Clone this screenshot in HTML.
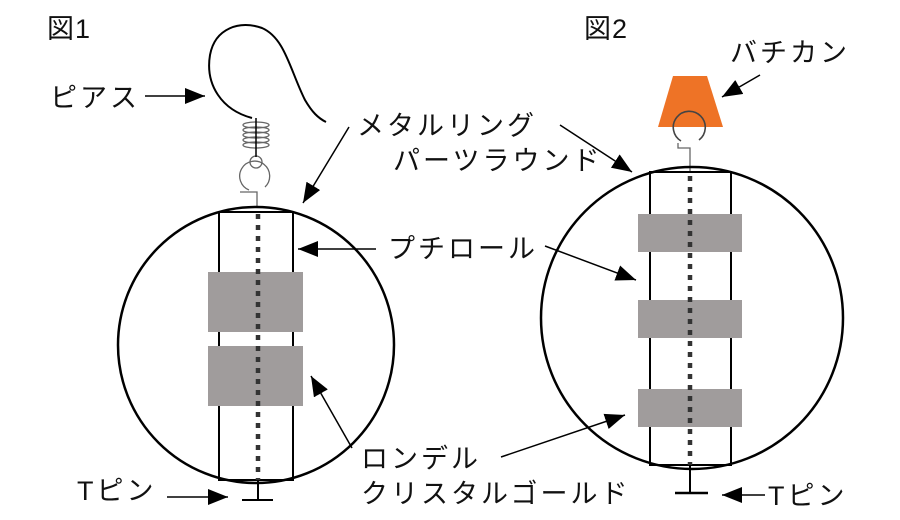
<!DOCTYPE html>
<html><head><meta charset="utf-8"><style>
html,body{margin:0;padding:0;background:#fff;}
svg{display:block;}
text{font-family:"Liberation Sans","Noto Sans CJK JP",sans-serif;font-size:27px;fill:#111;letter-spacing:3px;}
</style></head><body>
<svg width="900" height="520" viewBox="0 0 900 520" xmlns="http://www.w3.org/2000/svg">
<defs>
<marker id="a" viewBox="0 0 20 16" refX="20" refY="8" markerWidth="20" markerHeight="16" orient="auto" markerUnits="userSpaceOnUse"><path d="M0,0 L20,8 L0,16 z" fill="#000"/></marker>
</defs>

<!-- Figure 1 -->
<text x="47" y="38" style="letter-spacing:1px">図1</text>
<path d="M252,118 C222,110 205,85 210,55 C215,28 240,20 262,28 C285,38 290,70 305,100 C312,112 318,118 326,122" fill="none" stroke="#000" stroke-width="2"/>
<g fill="none" stroke="#666" stroke-width="1.3">
<ellipse cx="256" cy="125" rx="13" ry="3"/><ellipse cx="256" cy="130" rx="13" ry="3"/><ellipse cx="256" cy="135" rx="13" ry="3"/><ellipse cx="256" cy="140" rx="13" ry="3"/><ellipse cx="256" cy="145" rx="13" ry="3"/>
<circle cx="256" cy="162" r="6"/>
<path d="M249,190 A15,15 0 1 1 265,187"/>
<path d="M240,192 L257,192 L257,207"/>
</g>
<line x1="256" y1="118" x2="256" y2="157" stroke="#000" stroke-width="1.5"/>
<circle cx="256" cy="345" r="138" fill="none" stroke="#000" stroke-width="2.5"/>
<rect x="219" y="212" width="74" height="268" fill="none" stroke="#000" stroke-width="2"/>
<rect x="208" y="272" width="95" height="60" fill="#a09c9c"/>
<rect x="208" y="346" width="95" height="60" fill="#a09c9c"/>
<line x1="258" y1="214" x2="258" y2="480" stroke="#333" stroke-width="4.5" stroke-dasharray="5,6"/>
<line x1="258" y1="480" x2="258" y2="500" stroke="#000" stroke-width="2"/>
<line x1="242" y1="500" x2="273" y2="500" stroke="#000" stroke-width="2"/>

<text x="50" y="107">ピアス</text>
<line x1="145" y1="96" x2="205" y2="96" stroke="#000" stroke-width="1.5" marker-end="url(#a)"/>
<text x="357" y="135">メタルリング</text>
<line x1="349" y1="127" x2="303" y2="203" stroke="#000" stroke-width="1.5" marker-end="url(#a)"/>
<text x="393" y="170">パーツラウンド</text>
<line x1="560" y1="125" x2="632" y2="172" stroke="#000" stroke-width="1.5" marker-end="url(#a)"/>
<text x="388" y="258">プチロール</text>
<line x1="376" y1="249" x2="298" y2="249" stroke="#000" stroke-width="1.5" marker-end="url(#a)"/>
<line x1="545" y1="246" x2="636" y2="280" stroke="#000" stroke-width="1.5" marker-end="url(#a)"/>
<text x="361" y="468">ロンデル</text>
<text x="361" y="503">クリスタルゴールド</text>
<line x1="352" y1="448" x2="311" y2="376" stroke="#000" stroke-width="1.5" marker-end="url(#a)"/>
<line x1="501" y1="457" x2="625" y2="415" stroke="#000" stroke-width="1.5" marker-end="url(#a)"/>
<text x="77" y="500">Tピン</text>
<line x1="167" y1="497" x2="228" y2="497" stroke="#000" stroke-width="1.5" marker-end="url(#a)"/>

<!-- Figure 2 -->
<text x="584" y="38" style="letter-spacing:1px">図2</text>
<polygon points="673,76 707,76 723,127 658,127" fill="#ee7326"/>
<path d="M681,141 A16,16 0 1 1 699,140" fill="none" stroke="#444" stroke-width="1.6"/>
<path d="M678,143 L678,148 L690,148 L690,172" fill="none" stroke="#666" stroke-width="1.3"/>
<text x="730" y="62">バチカン</text>
<line x1="760" y1="75" x2="722" y2="97" stroke="#000" stroke-width="1.5" marker-end="url(#a)"/>
<circle cx="692" cy="318" r="151" fill="none" stroke="#000" stroke-width="2.5"/>
<rect x="650" y="172" width="81" height="293" fill="none" stroke="#000" stroke-width="2"/>
<rect x="638" y="214" width="104" height="38" fill="#a09c9c"/>
<rect x="638" y="300" width="104" height="38" fill="#a09c9c"/>
<rect x="638" y="389" width="104" height="38" fill="#a09c9c"/>
<line x1="690" y1="176" x2="690" y2="465" stroke="#333" stroke-width="4.5" stroke-dasharray="5,6"/>
<line x1="690" y1="465" x2="690" y2="493" stroke="#000" stroke-width="2"/>
<line x1="675" y1="493" x2="708" y2="493" stroke="#000" stroke-width="2.5"/>
<text x="768" y="505">Tピン</text>
<line x1="765" y1="495" x2="722" y2="495" stroke="#000" stroke-width="1.5" marker-end="url(#a)"/>
</svg>
</body></html>
